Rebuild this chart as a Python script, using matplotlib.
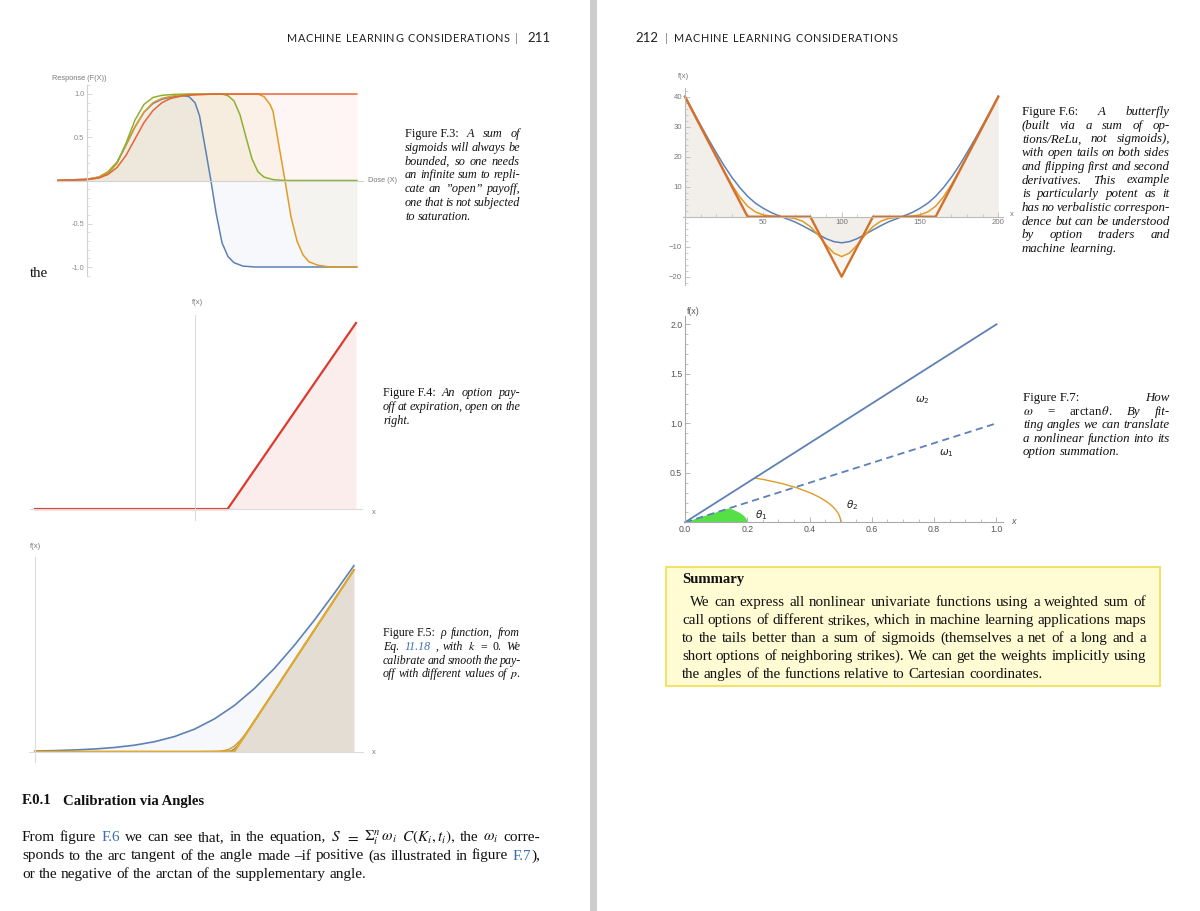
import matplotlib
matplotlib.use('Agg')
import matplotlib.pyplot as plt
from matplotlib.patches import Arc, Wedge, Rectangle
from matplotlib.ticker import MultipleLocator, FixedLocator, FormatStrFormatter

W, H, DPI = 1200, 911, 100
SERIF = 'Liberation Serif'
SANS = 'Liberation Sans'
HEAD = 'Lato'
INK = '#111111'
LINK = '#3a6db0'

BLUE = '#5E81B5'
GOLD = '#E19C24'
GREEN = '#8FB032'
RED = '#EB6235'
PAYOFF_RED = '#DD3A2E'
BFLY = '#D4702A'
WEDGE_GREEN = '#55E045'

# Figure F.3: sigmoid sums (dose / response)
F3_BLUE_X = [-1, 0, 0.4, 0.7, 1.0, 1.3, 1.6, 1.9, 2.2, 2.5, 2.9, 3.2, 3.4, 3.6, 3.75, 3.95, 4.13,
             4.3, 4.5, 4.7, 4.9, 5.2, 5.6, 9]
F3_BLUE_Y = [0, 0.015, 0.04, 0.1, 0.21, 0.41, 0.62, 0.79, 0.89, 0.94, 0.97, 0.98, 0.97, 0.9, 0.75,
             0.36, 0.0, -0.37, -0.72, -0.88, -0.95, -0.99, -1.0, -1.0]
F3_GOLD_X = [-1, 0, 0.4, 0.7, 1.0, 1.3, 1.6, 1.9, 2.2, 2.5, 2.9, 3.4, 5.7, 5.9, 6.1, 6.2, 6.35, 6.6,
             6.8, 7.0, 7.2, 7.4, 7.7, 8.1, 9]
F3_GOLD_Y = [0, 0.015, 0.04, 0.1, 0.21, 0.41, 0.62, 0.79, 0.9, 0.95, 0.98, 0.995, 1.0, 0.97, 0.88,
             0.8, 0.5, 0.0, -0.42, -0.7, -0.86, -0.94, -0.98, -1.0, -1.0]
F3_GREEN_X = [-1, 0, 0.4, 0.7, 1.0, 1.3, 1.6, 1.9, 2.2, 2.5, 2.9, 3.4, 4.5, 4.7, 4.9, 5.1, 5.3, 5.5,
              5.7, 5.9, 6.2, 6.6, 9]
F3_GREEN_Y = [0, 0.01, 0.03, 0.08, 0.2, 0.43, 0.7, 0.88, 0.96, 0.985, 0.995, 1.0, 1.0, 0.98, 0.92,
              0.76, 0.5, 0.25, 0.1, 0.04, 0.01, 0.0, 0.0]
F3_RED_X = [-1, 0, 0.4, 0.7, 1.0, 1.3, 1.6, 1.9, 2.2, 2.5, 2.8, 3.2, 3.6, 4.2, 9]
F3_RED_Y = [0, 0.01, 0.03, 0.07, 0.15, 0.29, 0.48, 0.67, 0.81, 0.9, 0.95, 0.98, 0.99, 1.0, 1.0]
F3_YTICKS = [-1.0, -0.5, 0.5, 1.0]

# Figure F.4: call payoff
F4_X = [-5, 1, 5]
F4_Y = [0, 0, 4]

# Figure F.5: smoothed payoffs
F5_SOFT_X = [-5, -4.5, -4, -3.5, -3, -2.5, -2, -1.5, -1, -0.5, 0, 0.5, 1, 1.5, 2, 2.5, 3]
F5_SOFT_Y = [0.012, 0.018, 0.029, 0.045, 0.07, 0.108, 0.165, 0.25, 0.372, 0.541, 0.762, 1.041,
             1.372, 1.751, 2.165, 2.608, 3.07]
F5_MID_X = [-5, -0.8, -0.4, -0.25, -0.15, 0, 0.15, 0.25, 0.4, 0.8, 3]
F5_MID_Y = [0, 0.0, 0.006, 0.018, 0.035, 0.09, 0.185, 0.268, 0.406, 0.8, 3.0]
F5_TIGHT_X = [-5, -0.3, -0.15, -0.08, 0, 0.08, 0.15, 0.3, 3]
F5_TIGHT_Y = [0, 0.0, 0.005, 0.014, 0.042, 0.094, 0.155, 0.3, 3.0]
F5_KINK_X = [-5, 0, 3]
F5_KINK_Y = [0, 0, 3]

# Figure F.6: butterfly
F6_X = list(range(0, 201, 5))
F6_BLUE = [40.2, 35.3, 30.5, 25.8, 21.3, 17.0, 13.1, 9.7, 6.8, 4.5, 2.8, 1.4, 0.3, -0.7, -1.7, -3.0,
           -4.4, -5.9, -7.3, -8.3, -8.7, -8.3, -7.3, -5.9, -4.4, -3.0, -1.7, -0.7, 0.3, 1.4, 2.8,
           4.5, 6.8, 9.7, 13.1, 17.0, 21.3, 25.8, 30.5, 35.3, 40.2]
F6_GOLD = [40.0, 35.0, 30.0, 25.0, 20.1, 15.2, 10.6, 6.6, 3.5, 1.6, 0.6, 0.2, 0.0, -0.2, -0.6, -1.5,
           -3.3, -6.1, -9.4, -12.1, -13.3, -12.1, -9.4, -6.1, -3.3, -1.5, -0.6, -0.2, 0.0, 0.2, 0.6,
           1.6, 3.5, 6.6, 10.6, 15.2, 20.1, 25.0, 30.0, 35.0, 40.0]
F6_KINK_X = [0, 40, 80, 100, 120, 160, 200]
F6_KINK_Y = [40, 0, 0, -20, 0, 0, 40]
F6_XTICKS = [50, 100, 150, 200]
F6_YTICKS = [-20, -10, 10, 20, 30, 40]

# Figure F.7: angles
F7_W2_X = [0, 1]
F7_W2_Y = [0, 2]
F7_W1_X = [0, 1]
F7_W1_Y = [0, 1]
F7_THETA2 = 63.43
F7_THETA1 = 45.0
F7_XTICKS = [0.0, 0.2, 0.4, 0.6, 0.8, 1.0]
F7_YTICKS = [0.5, 1.0, 1.5, 2.0]

CAP_F3 = [
    [('Figure\u00a0F.3:', 'r'), ('A sum of', 'i')],
    [('sigmoids will always be', 'i')],
    [('bounded, so one needs', 'i')],
    [('an infinite sum to repli-', 'i')],
    [('cate an \u201dopen\u201d payoff,', 'i')],
    [('one that is not subjected', 'i')],
    [('to saturation.', 'i')],
]
CAP_F4 = [
    [('Figure\u00a0F.4:', 'r'), ('An option pay-', 'i')],
    [('off at expiration, open on the', 'i')],
    [('right.', 'i')],
]
CAP_F5 = [
    [('Figure\u00a0F.5:', 'r'), ('\u03c1 function, from', 'i')],
    [('Eq.', 'i'), ('11.18', 'li'), (', with', 'i'), (r'$k$', 'm'), ('= 0.', 'r'), ('We', 'i')],
    [('calibrate and smooth the pay-', 'i')],
    [('off with different values of', 'i'), (r'$p$.', 'm')],
]
CAP_F6 = [
    [('Figure\u00a0F.6:', 'r'), ('A butterfly', 'i')],
    [('(built via a sum of op-', 'i')],
    [('tions/ReLu, not sigmoids),', 'i')],
    [('with open tails on both sides', 'i')],
    [('and flipping first and second', 'i')],
    [('derivatives. This example', 'i')],
    [('is particularly potent as it', 'i')],
    [('has no verbalistic correspon-', 'i')],
    [('dence but can be understood', 'i')],
    [('by option traders and', 'i')],
    [('machine learning.', 'i')],
]
CAP_F7 = [
    [('Figure\u00a0F.7:', 'r'), ('How', 'i')],
    [(r'$\omega$', 'm'), ('=', 'r'), (r'arctan$\,\theta$.', 'm'), ('By fit-', 'i')],
    [('ting angles we can translate', 'i')],
    [('a nonlinear function into its', 'i')],
    [('option summation.', 'i')],
]
BODY = [
    [('From figure', 'r'), ('F.6', 'l'), ('we can see that, in the equation,', 'r'), (r'$S$', 'm'),
     (r'$=$', 'm'), (r'$\Sigma_i^n\,\omega_i$', 'm'), (r'$C(K_i,t_i),$', 'm'), ('the', 'r'),
     (r'$\omega_i$', 'm'), ('corre-', 'r')],
    [('sponds to the arc tangent of the angle made \u2013if positive (as illustrated in figure', 'r'),
     ('F.7', 'l'), ('),', 'r', True)],
    [('or the negative of the arctan of the supplementary angle.', 'r')],
]
SUMMARY = [
    [('We can express all nonlinear univariate functions using a weighted sum of', 'r')],
    [('call options of different strikes, which in machine learning applications maps', 'r')],
    [('to the tails better than a sum of sigmoids (themselves a net of a long and a', 'r')],
    [('short options of neighboring strikes). We can get the weights implicitly using', 'r')],
    [('the angles of the functions relative to Cartesian coordinates.', 'r')],
]

plt.rcParams['font.family'] = [SANS, 'DejaVu Sans']
plt.rcParams['mathtext.fontset'] = 'stix'

STY = {
    'r': dict(family=SERIF, color=INK),
    'i': dict(family=SERIF, style='italic', color=INK),
    'b': dict(family=SERIF, weight='bold', color=INK),
    'l': dict(family=SERIF, color=LINK),
    'li': dict(family=SERIF, style='italic', color=LINK),
    'm': dict(family=SERIF, color=INK),
}

fig = plt.figure(figsize=(W / DPI, H / DPI), dpi=DPI)
renderer = fig.canvas.get_renderer()


def fx(x):
    return x / W


def fy(y):
    return 1 - y / H


def ptext(x, y, s, **kw):
    return fig.text(fx(x), fy(y), s, **kw)


def px_axes(x0, x1, y0, y1):
    ax = fig.add_axes([fx(x0), fy(y1), (x1 - x0) / W, (y1 - y0) / H])
    ax.patch.set_alpha(0)
    return ax


def mma_axes(ax, xo, yo, axcol='#BBBBBB', labcol='#777777', size=5.5):
    ax.spines['top'].set_visible(False)
    ax.spines['right'].set_visible(False)
    ax.spines['left'].set_position(('data', xo))
    ax.spines['bottom'].set_position(('data', yo))
    for s in ('left', 'bottom'):
        ax.spines[s].set_color(axcol)
        ax.spines[s].set_linewidth(0.8)
    ax.tick_params(which='major', direction='in', length=3.5, width=0.6, color=axcol,
                   labelcolor=labcol, labelsize=size, pad=2)
    ax.tick_params(which='minor', direction='in', length=2, width=0.5, color=axcol)


def text_line(segs, x0, y, size, x1=None):
    # words of a line, optionally justified between x0 and x1 (pixels)
    groups = []
    for seg in segs:
        words = [seg[0]] if seg[1] == 'm' else [w for w in seg[0].split(' ') if w]
        glue = len(seg) > 2 and seg[2]
        for k, w in enumerate(words):
            if k == 0 and glue and groups:
                groups[-1].append((w, seg[1]))
            else:
                groups.append([(w, seg[1])])
    placed, total = [], 0
    for g in groups:
        parts = []
        for w, st in g:
            t = ptext(0, y, w, fontsize=size, va='baseline', **STY[st])
            parts.append((t, t.get_window_extent(renderer=renderer).width))
        total += sum(p[1] for p in parts)
        placed.append(parts)
    space = size * DPI / 72 * 0.25
    if x1 is None or len(placed) < 2:
        gap = space
    else:
        gap = max((x1 - x0 - total) / (len(placed) - 1), 0.6 * space)
    x = x0
    for parts in placed:
        for t, wd in parts:
            t.set_x(fx(x))
            x += wd
        x += gap


def paragraph(lines, x0, x1, y0, step, size, first_indent=0):
    for i, segs in enumerate(lines):
        last = i == len(lines) - 1
        text_line(segs, x0 + (first_indent if i == 0 else 0), y0 + i * step, size,
                  None if last else x1)


def tracked(s, x0, x1, y, size, color=INK, family=HEAD):
    items = []
    for ch in s:
        if ch == ' ':
            items.append((None, size * DPI / 72 * 0.3))
        else:
            t = ptext(0, y, ch, fontsize=size, family=family, color=color, va='baseline')
            items.append((t, t.get_window_extent(renderer=renderer).width))
    track = (x1 - x0 - sum(w for _, w in items)) / (len(items) - 1)
    x = x0
    for t, w in items:
        if t is not None:
            t.set_x(fx(x))
        x += w + track


# page furniture
fig.add_artist(Rectangle((fx(590), 0), 7 / W, 1, transform=fig.transFigure,
                         facecolor='#CDCDCD', edgecolor='none'))
tracked('MACHINE LEARNING CONSIDERATIONS', 287, 510, 42.5, 7.8, color='#222222')
ptext(515, 42.5, '|', fontsize=8.5, family=HEAD, color='#888888', va='baseline')
ptext(527, 42.5, '211', fontsize=9.5, family=HEAD, color='#222222', va='baseline')
ptext(635, 42.5, '212', fontsize=9.5, family=HEAD, color='#222222', va='baseline')
ptext(665, 42.5, '|', fontsize=8.5, family=HEAD, color='#888888', va='baseline')
tracked('MACHINE LEARNING CONSIDERATIONS', 674, 898, 42.5, 7.8, color='#222222')
ptext(30, 277, 'the', fontsize=10.8, va='baseline', **STY['r'])

# F.3
ax = px_axes(57, 363, 85.35, 275.65)
ax.set_xlim(-1, 9.2)
ax.set_ylim(-1.1, 1.1)
for xs, ys, c in [(F3_BLUE_X, F3_BLUE_Y, BLUE), (F3_GOLD_X, F3_GOLD_Y, GOLD),
                  (F3_GREEN_X, F3_GREEN_Y, GREEN), (F3_RED_X, F3_RED_Y, RED)]:
    ax.fill_between(xs, 0, ys, color=c, alpha=0.05, lw=0)
    ax.plot(xs, ys, color=c, lw=1.1, solid_capstyle='round')
mma_axes(ax, 0, 0, axcol='#D2D2D2', labcol='#8A8A8A', size=5.3)
ax.set_xticks([])
ax.yaxis.set_major_locator(FixedLocator(F3_YTICKS))
ax.yaxis.set_minor_locator(MultipleLocator(0.1))
ax.yaxis.set_major_formatter(FormatStrFormatter('%.1f'))
ptext(52, 78, 'Response (F(X))', fontsize=5.3, color='#7A7A7A', va='center')
ptext(368, 181, 'Dose (X)', fontsize=5.3, color='#7A7A7A', va='center')
paragraph(CAP_F3, 405, 520, 137, 13.8, 8.8)

# F.4
ax = px_axes(30.2, 362.4, 315.1, 520.2)
ax.set_xlim(-5.15, 5.2)
ax.set_ylim(-0.24, 4.17)
ax.fill_between(F4_X, 0, F4_Y, color=PAYOFF_RED, alpha=0.09, lw=0)
ax.plot(F4_X, F4_Y, color=PAYOFF_RED, lw=1.6)
mma_axes(ax, 0, 0, axcol='#DCDCDC')
ax.set_xticks([])
ax.set_yticks([])
ptext(197, 302, 'f(x)', fontsize=5.5, color='#777777', ha='center', va='center')
ptext(372, 512, 'x', fontsize=5.5, color='#777777', va='center')
paragraph(CAP_F4, 383, 520, 396, 13.8, 8.7)

# F.5
ax = px_axes(29.0, 363.1, 557.2, 762.0)
ax.set_xlim(-5.15, 3.23)
ax.set_ylim(-0.17, 3.21)
ax.fill_between(F5_SOFT_X, 0, F5_SOFT_Y, color=BLUE, alpha=0.05, lw=0)
ax.fill_between(F5_KINK_X, 0, F5_KINK_Y, color='#D6C8B2', alpha=0.55, lw=0)
ax.plot(F5_SOFT_X, F5_SOFT_Y, color=BLUE, lw=1.2)
ax.plot(F5_MID_X, F5_MID_Y, color='#C9A03A', lw=1.1)
ax.plot(F5_TIGHT_X, F5_TIGHT_Y, color='#857F6A', lw=1.1)
ax.plot(F5_KINK_X, F5_KINK_Y, color='#E3A92A', lw=1.5)
mma_axes(ax, -5, 0, axcol='#DCDCDC')
ax.set_xticks([])
ax.set_yticks([])
ptext(35, 546, 'f(x)', fontsize=5.5, color='#777777', ha='center', va='center')
ptext(372, 753, 'x', fontsize=5.5, color='#777777', va='center')
paragraph(CAP_F5, 383, 520, 636, 13.8, 8.6)

# F.6
ax = px_axes(683.4, 1003, 88, 285.1)
ax.set_xlim(-1, 203)
ax.set_ylim(-22.8, 42.9)
for ys, c in [(F6_BLUE, BLUE), (F6_GOLD, GOLD)]:
    ax.fill_between(F6_X, 0, ys, color=c, alpha=0.035, lw=0)
ax.fill_between(F6_KINK_X, 0, F6_KINK_Y, color='#C8B89A', alpha=0.12, lw=0)
ax.plot(F6_X, F6_BLUE, color=BLUE, lw=1.1)
ax.plot(F6_X, F6_GOLD, color=GOLD, lw=1.1)
ax.plot(F6_KINK_X, F6_KINK_Y, color=BFLY, lw=1.7)
mma_axes(ax, 0, 0, axcol='#BBBBBB', labcol='#777777', size=5.6)
ax.xaxis.set_major_locator(FixedLocator(F6_XTICKS))
ax.xaxis.set_minor_locator(MultipleLocator(10))
ax.yaxis.set_major_locator(FixedLocator(F6_YTICKS))
ax.yaxis.set_minor_locator(MultipleLocator(2))
ptext(683, 77, 'f(x)', fontsize=5.5, color='#777777', ha='center', va='center')
ptext(1010, 214, 'x', fontsize=5.5, color='#777777', va='center')
paragraph(CAP_F6, 1022, 1170, 115, 13.7, 9.3)

# F.7
ax = px_axes(685, 1002.7, 316.4, 522.3)
ax.set_xlim(0, 1.02)
ax.set_ylim(0, 2.08)
ax.add_patch(Wedge((0, 0), 0.2, 0, F7_THETA1, facecolor=WEDGE_GREEN, edgecolor='none'))
ax.add_patch(Arc((0, 0), 1.0, 1.0, theta1=0, theta2=F7_THETA2, color=GOLD, lw=1.0))
ax.plot(F7_W2_X, F7_W2_Y, color=BLUE, lw=1.3, clip_on=False)
ax.plot(F7_W1_X, F7_W1_Y, color=BLUE, lw=1.3, ls=(0, (4, 2.5)), clip_on=False)
mma_axes(ax, 0, 0, axcol='#AAAAAA', labcol='#555555', size=6.3)
ax.xaxis.set_major_locator(FixedLocator(F7_XTICKS))
ax.xaxis.set_minor_locator(MultipleLocator(0.05))
ax.yaxis.set_major_locator(FixedLocator(F7_YTICKS))
ax.yaxis.set_minor_locator(MultipleLocator(0.1))
ax.xaxis.set_major_formatter(FormatStrFormatter('%.1f'))
ax.yaxis.set_major_formatter(FormatStrFormatter('%.1f'))
for xv, yv, s in [(0.738, 1.235, r'$\omega_2$'), (0.815, 0.70, r'$\omega_1$'),
                  (0.517, 0.175, r'$\theta_2$'), (0.225, 0.069, r'$\theta_1$')]:
    ax.text(xv, yv, s, fontsize=7.5, color='#222222', ha='left', va='center',
            math_fontfamily='dejavusans')
ptext(687, 312, 'f(x)', fontsize=6.3, color='#555555', va='center')
ptext(1011, 522, 'x', fontsize=6.5, color='#555555', style='italic', va='center')
paragraph(CAP_F7, 1023, 1170, 401, 13.6, 9.3)

# summary box
fig.add_artist(Rectangle((fx(666), fy(686)), (1160 - 666) / W, (686 - 567) / H,
                         transform=fig.transFigure, facecolor='#FFFBD3', edgecolor='#F0E26C',
                         lw=1.5, zorder=0))
ptext(682, 583.5, 'Summary', fontsize=10.6, va='baseline', **STY['b'])
paragraph(SUMMARY, 682, 1146, 606, 18, 10.8, first_indent=8)

# section text
ptext(22, 804.5, 'F.0.1', fontsize=10.6, va='baseline', **STY['b'])
ptext(63, 804.5, 'Calibration via Angles', fontsize=10.6, va='baseline', **STY['b'])
paragraph(BODY, 22, 540, 841, 18.5, 11)

fig.savefig('out.png', dpi=DPI)
